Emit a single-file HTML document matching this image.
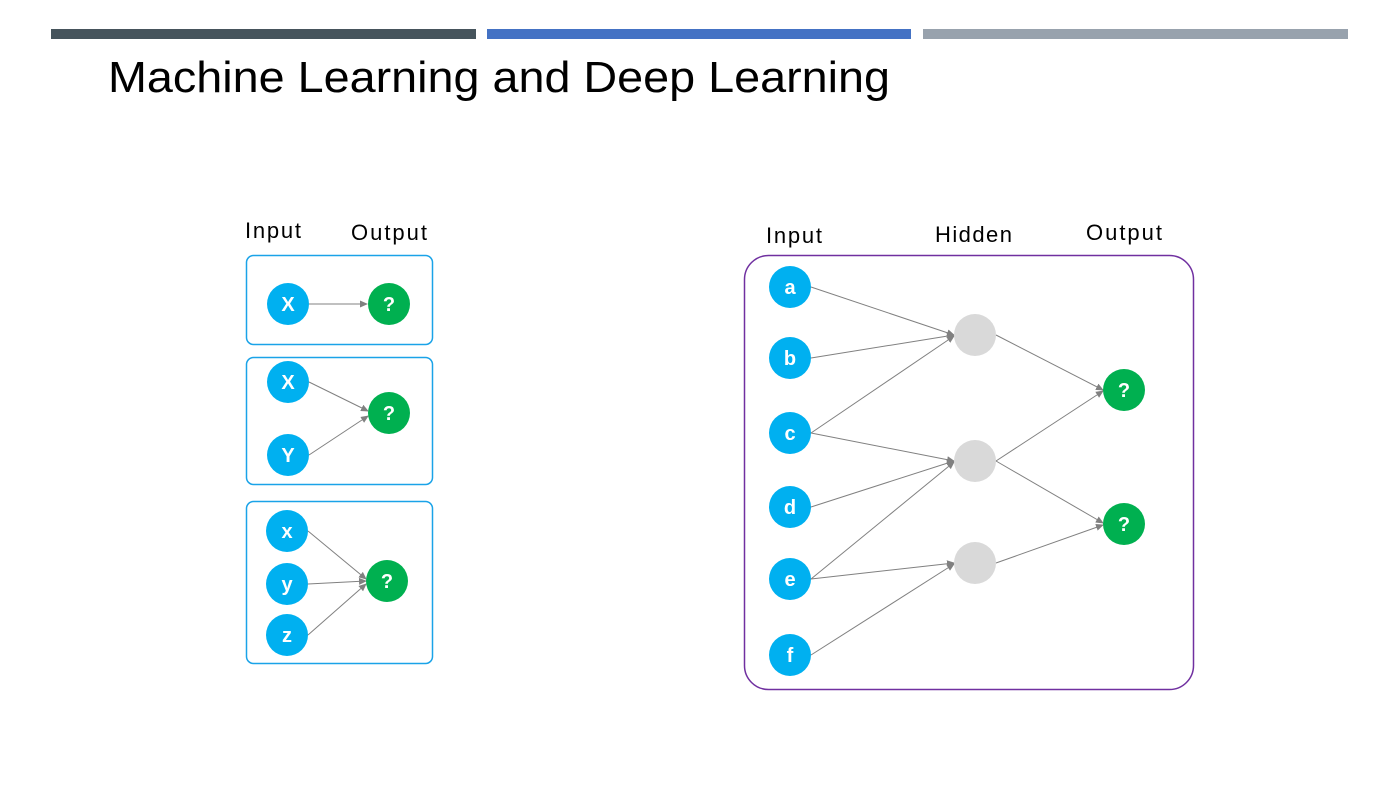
<!DOCTYPE html>
<html><head><style>
body{margin:0;background:#fff;}
svg text{font-family:"Liberation Sans",sans-serif;}
</style></head><body>
<svg width="1400" height="788" xmlns="http://www.w3.org/2000/svg">
<defs><marker id="ar" markerWidth="8" markerHeight="8" refX="7" refY="4" orient="auto" markerUnits="userSpaceOnUse"><path d="M0,0.5 L8,4 L0,7.5 Z" fill="#808080"/></marker></defs>
<rect x="51" y="29" width="425" height="10" fill="#46545c"/>
<rect x="487" y="29" width="424" height="10" fill="#4472c4"/>
<rect x="923" y="29" width="425" height="10" fill="#98a2ad"/>
<text x="108" y="92" font-size="44" fill="#000" textLength="782" lengthAdjust="spacingAndGlyphs">Machine Learning and Deep Learning</text>

<g font-size="22" fill="#000" lengthAdjust="spacingAndGlyphs">
<text x="245" y="238" textLength="56">Input</text><text x="351" y="240" textLength="76">Output</text>
<text x="766" y="243" textLength="56">Input</text><text x="935" y="242" textLength="77">Hidden</text><text x="1086" y="240" textLength="76">Output</text>
</g>
<g fill="none" stroke="#1aa3e8" stroke-width="1.5">
<rect x="246.5" y="255.5" width="186" height="89" rx="7"/>
<rect x="246.5" y="357.5" width="186" height="127" rx="7"/>
<rect x="246.5" y="501.5" width="186" height="162" rx="7"/>
</g>
<rect x="744.5" y="255.5" width="449" height="434" rx="24" fill="none" stroke="#7030a0" stroke-width="1.5"/>

<g stroke="#808080" stroke-width="1" marker-end="url(#ar)">
<line x1="309" y1="304" x2="367" y2="304"/>
<line x1="309" y1="382" x2="368" y2="411"/>
<line x1="309" y1="455" x2="368" y2="416"/>
<line x1="308" y1="531" x2="366" y2="579"/>
<line x1="308" y1="584" x2="366" y2="581"/>
<line x1="308" y1="635" x2="366" y2="584"/>

<line x1="811" y1="287" x2="954" y2="335"/>
<line x1="811" y1="358" x2="954" y2="335"/>
<line x1="811" y1="433" x2="954" y2="336"/>
<line x1="811" y1="433" x2="954" y2="461"/>
<line x1="811" y1="507" x2="954" y2="461"/>
<line x1="811" y1="579" x2="954" y2="462"/>
<line x1="811" y1="579" x2="954" y2="563"/>
<line x1="811" y1="655" x2="954" y2="564"/>
<line x1="996" y1="335" x2="1103" y2="390"/>
<line x1="996" y1="461" x2="1103" y2="391"/>
<line x1="996" y1="461" x2="1103" y2="523"/>
<line x1="996" y1="563" x2="1103" y2="525"/>
</g>

<g fill="#00b0f0">
<circle cx="288" cy="304" r="21"/><circle cx="288" cy="382" r="21"/><circle cx="288" cy="455" r="21"/>
<circle cx="287" cy="531" r="21"/><circle cx="287" cy="584" r="21"/><circle cx="287" cy="635" r="21"/>
<circle cx="790" cy="287" r="21"/><circle cx="790" cy="358" r="21"/><circle cx="790" cy="433" r="21"/>
<circle cx="790" cy="507" r="21"/><circle cx="790" cy="579" r="21"/><circle cx="790" cy="655" r="21"/>
</g>
<g fill="#00b050">
<circle cx="389" cy="304" r="21"/><circle cx="389" cy="413" r="21"/><circle cx="387" cy="581" r="21"/>
<circle cx="1124" cy="390" r="21"/><circle cx="1124" cy="524" r="21"/>
</g>
<g fill="#d9d9d9">
<circle cx="975" cy="335" r="21"/><circle cx="975" cy="461" r="21"/><circle cx="975" cy="563" r="21"/>
</g>
<g fill="#fff" font-size="20" font-weight="bold" text-anchor="middle">
<text x="288" y="311">X</text><text x="288" y="389">X</text><text x="288" y="462">Y</text>
<text x="287" y="538">x</text><text x="287" y="591">y</text><text x="287" y="642">z</text>
<text x="389" y="311">?</text><text x="389" y="420">?</text><text x="387" y="588">?</text>
<text x="1124" y="397">?</text><text x="1124" y="531">?</text>
<text x="790" y="294">a</text><text x="790" y="365">b</text><text x="790" y="440">c</text>
<text x="790" y="514">d</text><text x="790" y="586">e</text><text x="790" y="662">f</text>
</g>
</svg>
</body></html>
